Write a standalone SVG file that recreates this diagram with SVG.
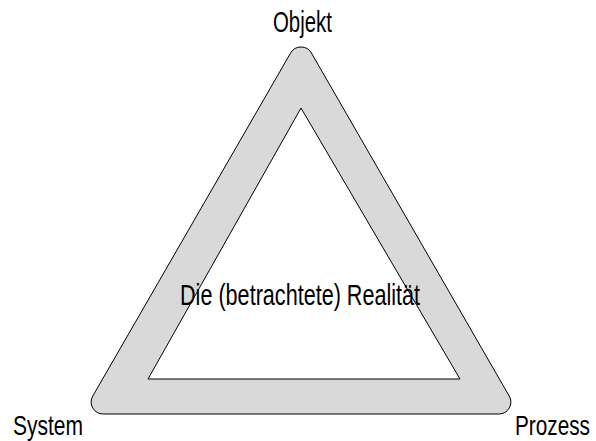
<svg xmlns="http://www.w3.org/2000/svg" width="596" height="441" viewBox="0 0 596 441">
<style>
.lbl{font-family:"Liberation Sans",Arial,sans-serif;font-size:30px;fill:#000}
.bot{font-size:27px}
</style>
<rect width="596" height="441" fill="#fff"/>
<g id="triangle">
<path d="M 290.6 53 A 12 12 0 0 1 311.4 53 L 509.2 396 A 12 12 0 0 1 498.8 414 L 103.2 414 A 12 12 0 0 1 92.8 396 Z" fill="#d9d9d9" stroke="#000" stroke-width="1"/>
<polygon points="301,108 148,379 460,379" fill="#fff" stroke="#000" stroke-width="1"/>
</g>
<g id="objekt"><text class="lbl" transform="translate(273,32) scale(0.68,1)" x="0" y="0" textLength="86.7" lengthAdjust="spacingAndGlyphs">Objekt</text></g>
<g id="system"><text class="lbl bot" transform="translate(13,435) scale(0.778,1)" x="0" y="0" textLength="90" lengthAdjust="spacingAndGlyphs">System</text></g>
<g id="prozess"><text class="lbl bot" transform="translate(515,435) scale(0.769,1)" x="0" y="0" textLength="97.5" lengthAdjust="spacingAndGlyphs">Prozess</text></g>
<g id="realitaet"><text class="lbl" transform="translate(180,305) scale(0.72,1)" x="0" y="0" textLength="333.5" lengthAdjust="spacingAndGlyphs">Die (betrachtete) Realität</text></g>
</svg>
